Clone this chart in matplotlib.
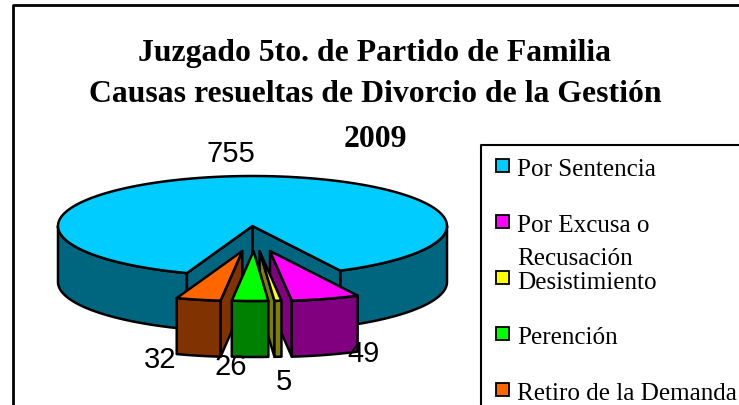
import numpy as np
import matplotlib
matplotlib.use("Agg")
import matplotlib.pyplot as plt
from matplotlib.patches import Polygon, Rectangle

categories = ["Por Sentencia", "Por Excusa o\nRecusación", "Desistimiento", "Perención", "Retiro de la Demanda"]
values = [755, 49, 5, 26, 32]
value_labels = ["755", "49", "5", "26", "32"]
title_lines = ["Juzgado 5to. de Partido de Familia", "Causas resueltas de Divorcio de la Gestión", "2009"]
top_colors = ["#00CCFF", "#FF00FF", "#FFFF00", "#00FF00", "#FF6600"]
side_colors = ["#006680", "#800080", "#808000", "#008000", "#803300"]

W, H = 739, 406
fig = plt.figure(figsize=(W / 100, H / 100), dpi=100)
ax = fig.add_axes([0, 0, 1, 1])
ax.set_xlim(0, W)
ax.set_ylim(H, 0)
ax.axis("off")

SERIF = "Liberation Serif"
SANS = "Liberation Sans"
cx, cy, rx, ry, depth = 252.5, 227, 194.5, 50, 56
ex, ey, shift = 54, 25, 2
LW = 1.8
start = 26.8  # angle from straight down to the first small slice edge


def rim(a, ox=0.0, oy=0.0):
    a = np.radians(a)
    return np.c_[cx + ox + rx * np.sin(a), cy + oy + ry * np.cos(a)]


def poly(pts, color, z):
    ax.add_patch(Polygon(pts, closed=True, fc=color, ec="black", lw=LW, joinstyle="round", zorder=z))


# frame
ax.plot([13, 13, W + 5], [H + 5, 6, 6], color="black", lw=2, zorder=1, solid_capstyle="butt")

# title
for line, y, in zip(title_lines, [53, 95, 140]):
    ax.text(375, y, line, family=SERIF, weight="bold", fontsize=22.9, ha="center", va="center", zorder=10)

# sweep of each slice in degrees
sweeps = np.array(values) / sum(values) * 360

# main slice: apex to rim the long way round
a0 = start
a1 = start + sweeps[0]
arc = np.linspace(a0, a1, 300)
top_pts = rim(arc)
apex = np.array([cx, cy])

# outer side wall, right and left front parts
for lo, hi in [(a0, 90), (270, a1)]:
    s = rim(np.linspace(lo, hi, 80))
    poly(np.vstack([s, (s + [0, depth])[::-1]]), side_colors[0], 2)
# inner walls of the notch
for a in (a0, a1):
    e = rim(np.array([a]))[0]
    poly([apex, e, e + [0, depth], apex + [0, depth]], side_colors[0], 2.5)
poly(np.vstack([[apex], top_pts]), top_colors[0], 3)

# exploded slices
edge = a0
for i in range(1, len(values)):
    a_hi = edge
    a_lo = edge - sweeps[i]
    mid = np.radians((a_hi + a_lo) / 2)
    ox = ex * np.sin(mid) + shift
    oy = ey
    ap = np.array([cx + ox, cy + oy])
    z = 4 + (4 - abs(i - 3)) * 0.1
    arc = np.linspace(a_lo, a_hi, 40)
    t = rim(arc, ox, oy)
    # visible radial walls
    if a_hi < 0:
        e = t[-1]
        poly([ap, e, e + [0, depth], ap + [0, depth]], side_colors[i], z)
    if a_lo > 0:
        e = t[0]
        poly([ap, e, e + [0, depth], ap + [0, depth]], side_colors[i], z)
    poly(np.vstack([t, (t + [0, depth])[::-1]]), side_colors[i], z + 0.01)
    poly(np.vstack([[ap], t]), top_colors[i], z + 0.02)
    edge = a_lo

# data labels
label_pos = [(231, 154), (364, 354), (284, 382), (231, 367), (160, 360)]
for lab, (x, y) in zip(value_labels, label_pos):
    ax.text(x, y, lab, family=SANS, fontsize=21, ha="center", va="center", zorder=9)

# legend
ax.plot([481, 481, W + 5], [H + 5, 146, 146], color="black", lw=1.5, zorder=1, solid_capstyle="butt")
marker_y = [166, 222, 278, 334, 390]
text_y = [[170], [226, 259], [283], [338], [394]]
for name, my, ty, c in zip(categories, marker_y, text_y, top_colors):
    ax.add_patch(Rectangle((495.5, my - 6.5), 13, 13, fc=c, ec="black", lw=1.3, zorder=5))
    for part, y in zip(name.split("\n"), ty):
        ax.text(517, y, part, family=SERIF, fontsize=18.1, ha="left", va="center", zorder=5, clip_on=True)

fig.savefig("out.png", dpi=100)
